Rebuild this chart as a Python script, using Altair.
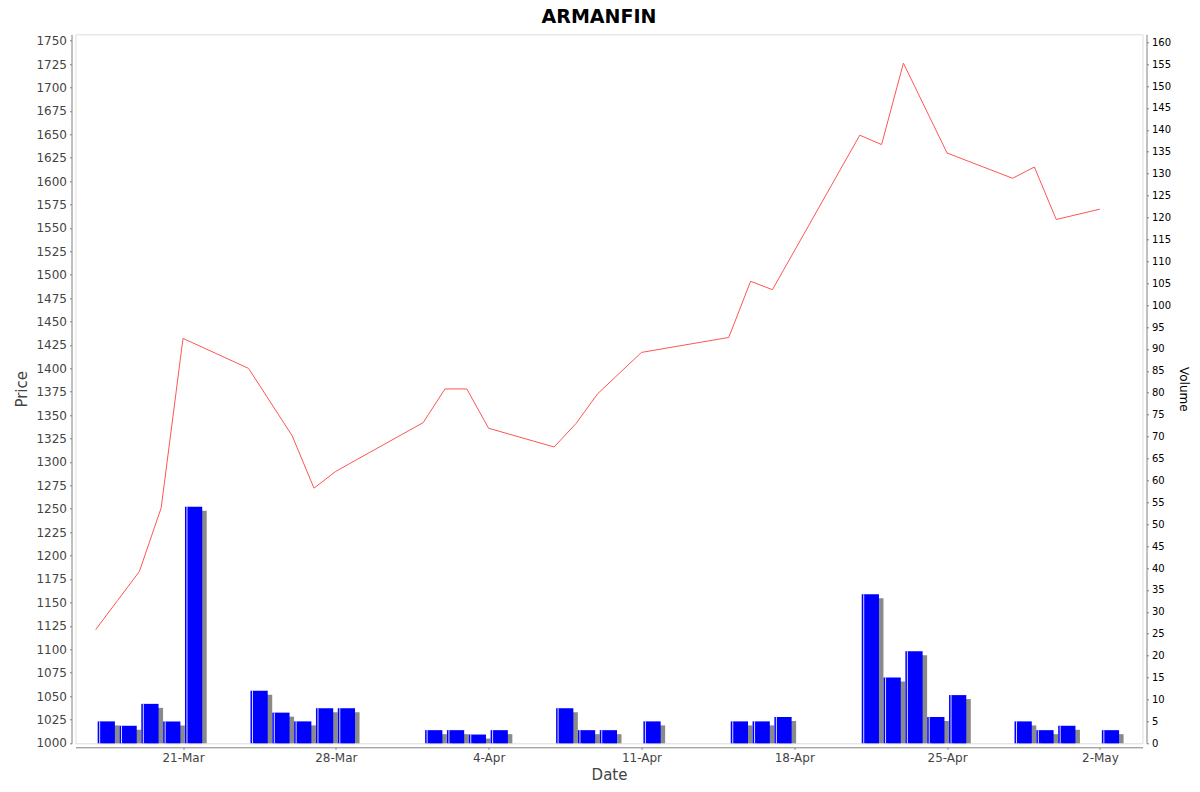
import altair as alt
import pandas as pd

dates = ["2025-03-17", "2025-03-18", "2025-03-19", "2025-03-20", "2025-03-21",
         "2025-03-24", "2025-03-25", "2025-03-26", "2025-03-27", "2025-03-28",
         "2025-04-01", "2025-04-02", "2025-04-03", "2025-04-04", "2025-04-07",
         "2025-04-08", "2025-04-09", "2025-04-11", "2025-04-15", "2025-04-16",
         "2025-04-17", "2025-04-21", "2025-04-22", "2025-04-23", "2025-04-24",
         "2025-04-25", "2025-04-28", "2025-04-29", "2025-04-30", "2025-05-02"]
prices = [1121, 1152, 1183, 1251, 1432, 1400, 1364, 1328, 1272, 1290,
          1342, 1378, 1378, 1336, 1316, 1341, 1373, 1417, 1433, 1493,
          1484, 1649, 1639, 1726, 1678, 1630, 1603, 1615, 1559, 1570]
volumes = [5, 4, 9, 5, 54, 12, 7, 5, 8, 8,
           3, 3, 2, 3, 8, 3, 3, 5, 5, 5,
           6, 34, 15, 21, 6, 11, 5, 3, 4, 3]
tick_days = [(3, 21), (3, 28), (4, 4), (4, 11), (4, 18), (4, 25), (5, 2)]

df = pd.DataFrame({"date": dates, "price": prices, "volume": volumes})

FONT = "DejaVu Sans"
GRAY = "#808080"

x_domain = [alt.DateTime(year=2025, month=3, date=16, hours=1, minutes=48, utc=True),
            alt.DateTime(year=2025, month=5, date=3, hours=22, minutes=51, utc=True)]
x_scale = alt.Scale(type="utc", domain=x_domain, nice=False)
x_axis = alt.Axis(
    values=[alt.DateTime(year=2025, month=m, date=d, utc=True) for m, d in tick_days],
    labelExpr="utcFormat(datum.value, '%-d-%b')",
    title="Date", offset=4, tickSize=2, labelPadding=3,
    domainColor=GRAY, tickColor=GRAY, labelColor="#444444",
    labelFont=FONT, labelFontSize=12, titleFont=FONT, titleFontSize=15,
    titleFontWeight="normal", titleColor="#444444", titlePadding=4, grid=False,
)

price_axis = alt.Axis(
    values=list(range(1000, 1751, 25)), format="d", title="Price", orient="left",
    offset=4, tickSize=2, labelPadding=3,
    domainColor=GRAY, tickColor=GRAY, labelColor="#444444",
    labelFont=FONT, labelFontSize=12, titleFont=FONT, titleFontSize=15,
    titleFontWeight="normal", titleColor="#444444", titlePadding=6, grid=False,
)
vol_axis = alt.Axis(
    values=list(range(0, 161, 5)), format="d", title="Volume", orient="right",
    offset=4, tickSize=2, labelPadding=3,
    domainColor=GRAY, tickColor=GRAY, labelColor="black",
    labelFont=FONT, labelFontSize=10, titleFont=FONT, titleFontSize=12,
    titleFontWeight="normal", titleColor="black", titlePadding=6, grid=False,
)

base = alt.Chart(df).transform_calculate(
    x0="time(toDate(datum.date)) + 0.09 * 86400000",
    x1="time(toDate(datum.date)) + 0.88 * 86400000",
)

vol_y = alt.Y("volume:Q", scale=alt.Scale(domain=[0, 161.8], nice=False), axis=vol_axis)

shadow = base.mark_rect(color="#8a8a8a", xOffset=4.5, x2Offset=4.5, yOffset=4).encode(
    x=alt.X("x0:T", scale=x_scale, axis=x_axis),
    x2="x1:T",
    y=vol_y,
    y2=alt.datum(0),
)
bars = base.mark_rect(color="#0000ff").encode(
    x=alt.X("x0:T", scale=x_scale, axis=x_axis),
    x2="x1:T",
    y=vol_y,
    y2=alt.datum(0),
)
shine = base.mark_rule(color="white", xOffset=2, strokeWidth=1, opacity=0.85).encode(
    x=alt.X("x0:T", scale=x_scale, axis=x_axis),
    y=vol_y,
    y2=alt.datum(0),
)
vol_layer = alt.layer(shadow, bars, shine)

line = alt.Chart(df).mark_line(color="#ff5555", strokeWidth=1).encode(
    x=alt.X("date:T", scale=x_scale, axis=x_axis),
    y=alt.Y("price:Q", scale=alt.Scale(domain=[999.5, 1756.8], nice=False), axis=price_axis),
)

chart = alt.layer(vol_layer, line).resolve_scale(y="independent").properties(
    width=1067, height=709,
    title=alt.TitleParams("ARMANFIN", font=FONT, fontSize=19, fontWeight="bold",
                          color="black", anchor="middle", dx=-10, offset=7),
    autosize=alt.AutoSizeParams(type="none"),
    padding={"left": 67.5, "top": 26.3, "right": 49.5, "bottom": 40.7},
).configure_view(stroke=GRAY, strokeWidth=1).configure(background="white")

chart.save("out.html", embed_options={"renderer": "svg", "actions": False})
